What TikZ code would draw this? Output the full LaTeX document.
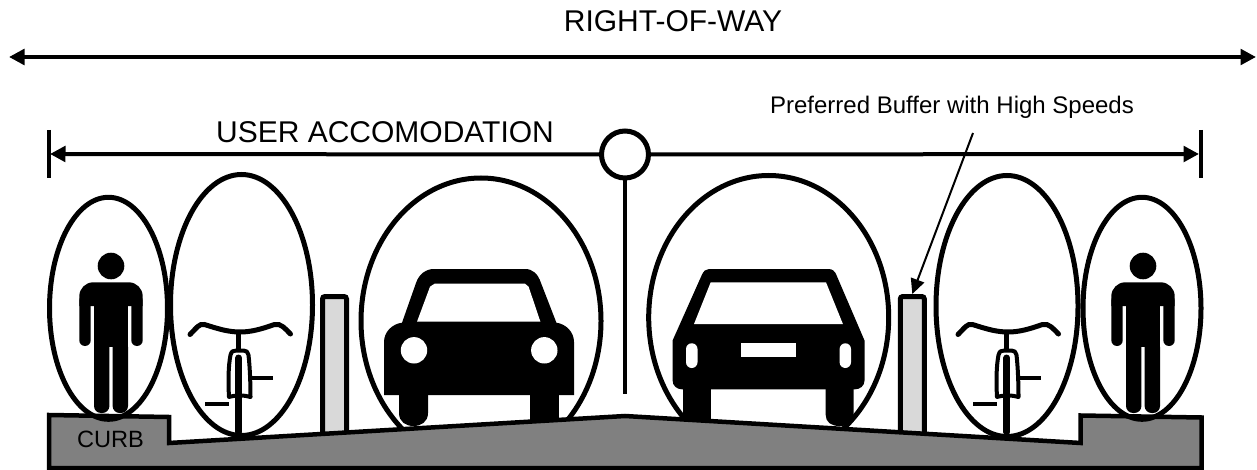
\documentclass[tikz,border=0pt]{standalone}
\usepackage{fontspec}
\setmainfont{Liberation Sans}
\usetikzlibrary{arrows.meta}
\tikzset{
 x=1pt,y=-1pt,
 bubble/.style={draw=black,line width=5pt},
 dimline/.style={draw=black,line width=4pt},
 tri/.style={-{Triangle[length=15.5pt,width=15.5pt]}},
 tritwo/.style={{Triangle[length=15.5pt,width=15.5pt]}-{Triangle[length=15.5pt,width=15.5pt]}},
 ground/.style={draw=black,line width=4.5pt,fill=groundgray,line join=miter},
 bollard/.style={draw=black,line width=5pt,fill=bollardgray,rounded corners=2.5pt,minimum width=24pt,minimum height=140pt,inner sep=0pt,outer sep=2.5pt},
 big label/.style={font=\fontsize{30}{32}\selectfont,inner sep=0pt,anchor=base},
 small label/.style={font=\fontsize{24}{26}\selectfont,inner sep=0pt,anchor=base},
 bikeline/.style={draw=black,line width=4pt,line cap=round},
}
\definecolor{groundgray}{HTML}{808080}
\definecolor{bollardgray}{HTML}{D9D9D9}
\newcommand{\walker}[1]{%
 \begin{scope}[xshift=#1pt]
 \fill[black] (0,266) circle (13.3);
 \fill[black] (-31.7,306) [rounded corners=14pt] -- (-31.7,282.3) -- (31.7,282.3) [sharp corners] -- (31.7,306) -- cycle;
 \fill[black,rounded corners=5.7pt] (-31.7,295) -- (-31.7,346) -- (-20.3,346) -- (-20.3,295) -- cycle;
 \fill[black,rounded corners=5.7pt] (31.7,295) -- (31.7,346) -- (20.3,346) -- (20.3,295) -- cycle;
 \fill[black] (-17,295) rectangle (17,347);
 \fill[black,rounded corners=7pt] (-17,340) -- (-17,413) -- (-1.6,413) -- (-1.6,340) -- cycle;
 \fill[black,rounded corners=7pt] (17,340) -- (17,413) -- (1.6,413) -- (1.6,340) -- cycle;
 \end{scope}}
\newcommand{\cycle}[1]{%
 \begin{scope}[xshift=#1pt]
 \draw[bikeline,line width=5pt] (-48.5,334.5) .. controls (-42,328) and (-39,323) .. (-34,324.5) .. controls (-20,329) and (-10,332) .. (1.5,332) .. controls (13,332) and (23,329) .. (36,324.5) .. controls (42,323) and (46,328) .. (52,334);
 \draw[line width=4.5pt] (-0.2,332) -- (-0.2,350);
 \draw[draw=black,line width=4pt,line join=round] (-9.5,397) .. controls (-10.5,380) and (-10,365) .. (-8,355) .. controls (-7,351) and (-5,350.5) .. (-2,350.5) -- (5,350.5) .. controls (8,350.5) and (9.5,352) .. (10,355) .. controls (11.5,368) and (12,385) .. (12,397) .. controls (6,395) and (-3,395) .. (-9.5,397) -- cycle;
 \draw[draw=black,line width=7pt,line cap=round] (0.2,358) -- (0.2,432);
 \draw[bikeline,line cap=butt] (13.5,378) -- (34,378);
 \draw[bikeline,line cap=butt] (-33.5,404) -- (-9.5,404);
 \end{scope}}
\begin{document}
\begin{tikzpicture}
\useasboundingbox (0,0) rectangle (1257,470);
\fill[white] (0,0) rectangle (1257,470);
% right of way
\coordinate (rowL) at (9,57);
\coordinate (rowR) at (1256,57);
\draw[dimline,tritwo] (rowL) -- (rowR);
\node[big label] (rowt) at (673,32) {RIGHT-OF-WAY};
\node[big label] (uat) at (385,143) {USER ACCOMODATION};
\node[small label] (buft) at (952,113.5) {Preferred Buffer with High Speeds};
% user accommodation
\coordinate (uaL) at (50,154);
\coordinate (uaR) at (1199,154);
\coordinate (tickLa) at (49,130);
\coordinate (tickLb) at (49,178);
\coordinate (tickRa) at (1201,130);
\coordinate (tickRb) at (1201,178);
\draw[dimline] (tickLa) -- (tickLb);
\draw[dimline] (tickRa) -- (tickRb);
\node[circle,draw=black,line width=5pt,minimum size=47pt,inner sep=0pt,outer sep=2.5pt] (sign) at (625,154.5) {};
\coordinate (signfoot) at (625,394);
\draw[dimline,tri] (sign.east) -- (uaR);
\draw[dimline,tri] (sign.west) -- (uaL);
\draw[dimline] (sign.south) -- (signfoot);
% car bubbles (their feet go behind the road)
\draw[bubble] (481,321) ellipse (120 and 143);
\draw[bubble] (768.7,317.5) ellipse (120 and 142);
% bollards
\node[bollard] (bolL) at (334.5,366.5) {};
\node[bollard] (bolR) at (912.3,366.5) {};
% front of car
\fill[black] (399,390) -- (428,390) -- (428,413) .. controls (428,422) and (421,426) .. (413.5,426) .. controls (406,426) and (399,422) .. (399,413) -- cycle;
\fill[black] (530,390) -- (559,390) -- (559,425) -- (530,425) -- cycle;
\fill[black] (384,395) -- (384,342) .. controls (384,332) and (392,324) .. (402,322.7)
  -- (416,283) .. controls (419,274) and (426,269) .. (434,269) -- (525,269)
  .. controls (533,269) and (538,274) .. (541,283) -- (556.4,322.7)
  .. controls (566,324) and (574,332) .. (574,342) -- (574,395) -- cycle;
\fill[white] (417,321.7) -- (430,286.7) -- (434.6,283.7) -- (525,283.7) -- (528.6,286.7) -- (540.4,321.7) -- cycle;
\fill[white] (414,350.3) circle (13.2);
\fill[white] (544.3,350.3) circle (13.2);
% back of car
\fill[black] (683,385) rectangle (711.4,425);
\fill[black] (825.7,385) -- (853.6,385) -- (853.6,415) .. controls (853.6,422) and (848,426) .. (839.6,426) .. controls (831,426) and (825.7,422) .. (825.7,415) -- cycle;
\fill[black] (672.5,340.7) -- (701.8,275) .. controls (703.5,271) and (706,269) .. (709,269) -- (828.6,269)
  .. controls (832,269) and (835,271) .. (836.4,275) -- (864.6,340.7) -- (864.6,380)
  .. controls (864.6,386) and (860,389.3) .. (855,389.3) -- (682,389.3) .. controls (677,389.3) and (672.5,386) .. (672.5,380) -- cycle;
\fill[white] (694,324) -- (710.7,282.3) -- (826,282.3) -- (842.9,324) -- cycle;
\fill[white] (741,343.3) rectangle (796,356.7);
\fill[white,rounded corners=5.7pt] (686,343.3) rectangle (697.5,368);
\fill[white,rounded corners=5.7pt] (839.6,343.3) rectangle (851,368);
% people and bicycles
\walker{111}
\walker{1143}
\cycle{238.5}
\cycle{1006.5}
% road
\draw[ground] (49,415) -- (169,417) -- (169,443) -- (625,416) -- (1080.7,443) -- (1080.7,415.5) -- (1201.7,417.5) -- (1201.7,468) -- (49,468) -- cycle;
\node[font=\fontsize{23.6}{26}\selectfont,inner sep=0pt,anchor=base] (curb) at (110.5,447.3) {CURB};
% side bubbles
\draw[bubble] (108.5,308.3) ellipse (59 and 111);
\draw[bubble] (241.5,305) ellipse (71 and 130.5);
\draw[bubble] (1007,306) ellipse (71 and 130.5);
\draw[bubble] (1142,308.3) ellipse (59 and 111);
% leader
\coordinate (lead) at (973,133);
\draw[draw=black,line width=2pt,-{Triangle[length=15pt,width=14pt]}] (lead) -- (bolR.north);
\end{tikzpicture}
\end{document}
